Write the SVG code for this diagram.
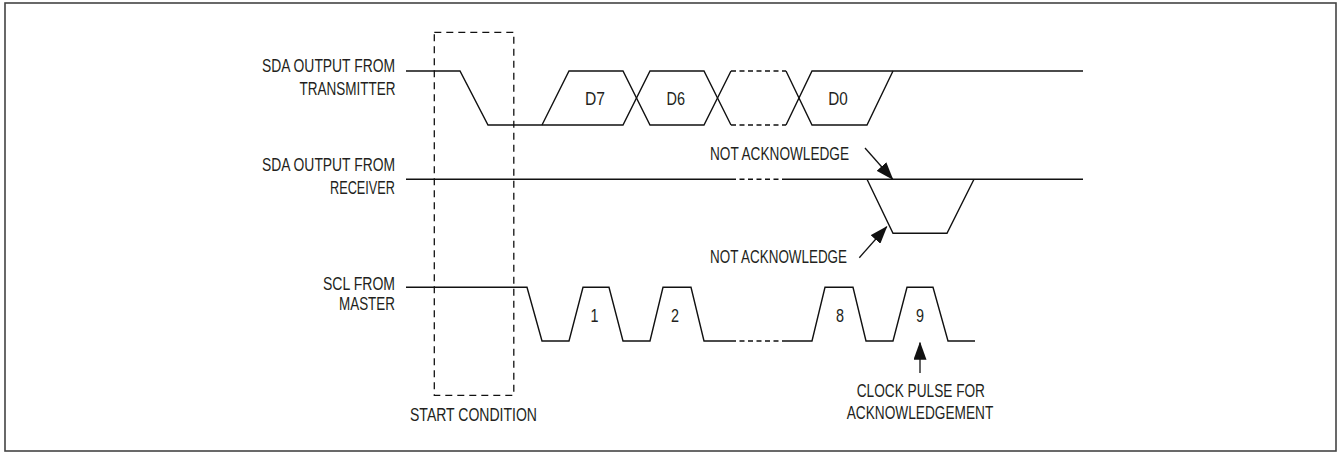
<svg xmlns="http://www.w3.org/2000/svg" width="1341" height="454" viewBox="0 0 1341 454">
<style>
text{font-family:"Liberation Sans",Arial,sans-serif;font-size:18px;fill:#231f20}
.w{fill:none;stroke:#111;stroke-width:1.4;stroke-linejoin:miter}
.d{fill:none;stroke:#111;stroke-width:1.4;stroke-dasharray:5 3.5}
.box{fill:none;stroke:#111;stroke-width:1.3;stroke-dasharray:7 5}
.ar{fill:none;stroke:#111;stroke-width:1.3}
</style>
<defs>
<marker id="ah" viewBox="0 0 18 13" markerWidth="18" markerHeight="13" refX="17" refY="6.5" orient="auto" markerUnits="userSpaceOnUse">
<path d="M0,0 L18,6.5 L0,13 z" fill="#111"/>
</marker>
</defs>
<rect x="5" y="3" width="1331" height="448" fill="#fff" stroke="#444" stroke-width="1.6"/>
<g id="start-condition">
<rect class="box" x="434.3" y="32.3" width="79.5" height="363"/>
<text x="410" y="420.5" textLength="127" lengthAdjust="spacingAndGlyphs">START CONDITION</text>
</g>
<g id="sda-transmitter">
<text x="262" y="72" textLength="133" lengthAdjust="spacingAndGlyphs">SDA OUTPUT FROM</text>
<text x="299.5" y="94.5" textLength="96" lengthAdjust="spacingAndGlyphs">TRANSMITTER</text>
<path class="w" d="M406,71 H460 L488,125 H623 L650,71 H704 L731,125"/>
<path class="w" d="M542,125 L569,71 H623 L650,125 H704 L731,71"/>
<path class="d" d="M731,71 H786 M731,125 H786"/>
<path class="w" d="M786,125 L812,71 H1083"/>
<path class="w" d="M786,71 L812,125 H867 L893,71"/>
<text x="585" y="105" textLength="20" lengthAdjust="spacingAndGlyphs">D7</text>
<text x="666.5" y="105" textLength="18.5" lengthAdjust="spacingAndGlyphs">D6</text>
<text x="828.3" y="105" textLength="19.5" lengthAdjust="spacingAndGlyphs">D0</text>
</g>
<g id="sda-receiver">
<text x="262" y="171" textLength="133" lengthAdjust="spacingAndGlyphs">SDA OUTPUT FROM</text>
<text x="330" y="193.5" textLength="65" lengthAdjust="spacingAndGlyphs">RECEIVER</text>
<path class="w" d="M406,179.3 H731 M786,179.3 H1083"/>
<path class="d" d="M731,179.3 H786"/>
<path class="w" d="M867,179.3 L893,233.3 H947 L974,179.3"/>
</g>
<g id="scl-master">
<text x="323" y="289.5" textLength="72" lengthAdjust="spacingAndGlyphs">SCL FROM</text>
<text x="339" y="310" textLength="56" lengthAdjust="spacingAndGlyphs">MASTER</text>
<path class="w" d="M406,287.3 H527 L542,341 H569 L583,287.3 H609 L623,341 H650 L663,287.3 H691 L704,341 H731"/>
<path class="d" d="M731,341 H785"/>
<path class="w" d="M785,341 H812 L825,287.3 H853 L866,341 H893 L907,287.3 H933 L948,341 H975"/>
<text x="590.5" y="321.5" textLength="8" lengthAdjust="spacingAndGlyphs">1</text>
<text x="671" y="321.5" textLength="8" lengthAdjust="spacingAndGlyphs">2</text>
<text x="836" y="321.5" textLength="8" lengthAdjust="spacingAndGlyphs">8</text>
<text x="916" y="321.5" textLength="8" lengthAdjust="spacingAndGlyphs">9</text>
</g>
<g id="not-ack-upper">
<text x="710" y="159.5" textLength="139" lengthAdjust="spacingAndGlyphs">NOT ACKNOWLEDGE</text>
</g>
<g id="not-ack-lower">
<text x="710" y="262.7" textLength="137" lengthAdjust="spacingAndGlyphs">NOT ACKNOWLEDGE</text>
</g>
<g id="clock-pulse-label">
<text x="856.7" y="396.7" textLength="128.3" lengthAdjust="spacingAndGlyphs">CLOCK PULSE FOR</text>
<text x="846.7" y="419.3" textLength="146.6" lengthAdjust="spacingAndGlyphs">ACKNOWLEDGEMENT</text>
</g>
<g id="connectors">
<line class="ar" x1="865" y1="148" x2="892.7" y2="179.3" marker-end="url(#ah)"/>
<line class="ar" x1="859.3" y1="257.7" x2="886.7" y2="226.7" marker-end="url(#ah)"/>
<line class="ar" x1="920" y1="373" x2="920" y2="342.7" marker-end="url(#ah)"/>
</g>
</svg>
